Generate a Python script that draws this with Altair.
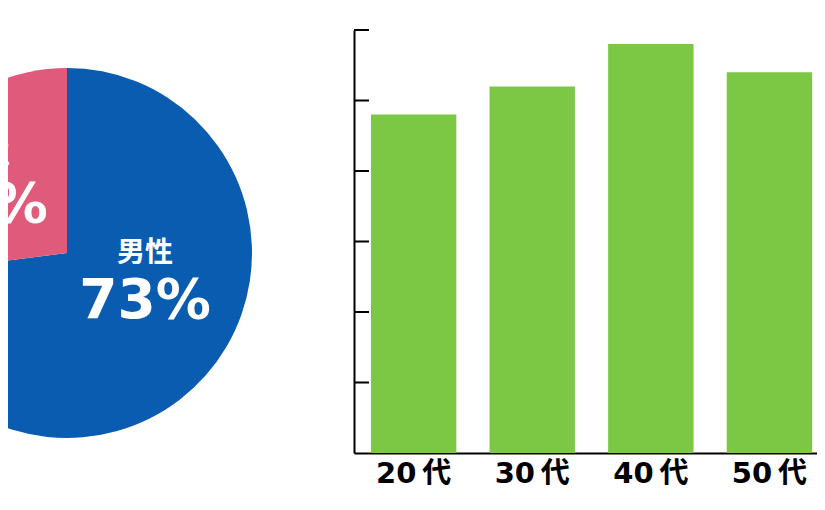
import altair as alt
import pandas as pd

# ---- data ----
genders = ["男性", "女性"]
shares = [73, 27]

ages = ["20代", "30代", "40代", "50代"]
age_values = [48, 52, 58, 54]
tick_values = [10, 20, 30, 40, 50, 60]

BLUE = "#0a5cb0"
PINK = "#e05a7b"
GREEN = "#7cc744"
FONT = "'DejaVu Sans', 'Noto Sans CJK JP', sans-serif"

pie_df = pd.DataFrame({"gender": genders, "share": shares})
bar_df = pd.DataFrame({"age": ages, "value": age_values})
tick_df = pd.DataFrame({"tick": tick_values})

CX, CY, R = 59, 223, 185

arc = alt.Chart(pie_df).mark_arc(radius=R, clip=True).encode(
    theta=alt.Theta("share:Q", stack=True),
    color=alt.Color("gender:N", scale=alt.Scale(domain=genders, range=[BLUE, PINK]), legend=None),
    order=alt.Order("share:Q", sort="descending"),
    x=alt.value(CX),
    y=alt.value(CY),
)

def label_layers(gender, nx, ny, py):
    base = alt.Chart(pie_df).transform_filter(
        alt.FieldEqualPredicate(field="gender", equal=gender)
    ).transform_calculate(pct="datum.share + '%'")
    name = base.mark_text(
        clip=True, font=FONT, fontSize=28, fontWeight="bold", color="white",
        align="center", baseline="middle"
    ).encode(text="gender:N", x=alt.value(nx), y=alt.value(ny))
    pct = base.mark_text(
        clip=True, font=FONT, fontSize=55, fontWeight="bold", color="white",
        align="center", baseline="middle"
    ).encode(text="pct:N", x=alt.value(nx), y=alt.value(py))
    return [name, pct]

pie = alt.layer(
    arc,
    *label_layers("男性", 137, 224, 271),
    *label_layers("女性", -26, 125, 175),
).properties(width=300, height=423)

y_axis = alt.Axis(title=None, labels=False, ticks=False, grid=False,
                  domainColor="black", domainWidth=2)

bars = alt.Chart(bar_df).mark_bar(color=GREEN).encode(
    x=alt.X(
        "age:N", sort=ages,
        scale=alt.Scale(paddingInner=0.28, paddingOuter=0.092, align=0.776),
        axis=alt.Axis(
            title=None, labelAngle=0, ticks=False, grid=False,
            domainColor="black", domainWidth=2,
            labelFont=FONT, labelFontSize=29, labelFontWeight="bold",
            labelColor="black", labelPadding=6,
            labelExpr="replace(datum.label, '代', '\u2009代')",
        ),
    ),
    y=alt.Y("value:Q", scale=alt.Scale(domain=[0, 60], nice=False), axis=y_axis),
)

ticks = alt.Chart(tick_df).mark_rule(color="black", strokeWidth=2).encode(
    y=alt.Y("tick:Q", axis=y_axis),
    x=alt.value(0),
    x2=alt.value(15),
)

bar_chart = alt.layer(bars, ticks).properties(width=463, height=423)

chart = alt.hconcat(pie, bar_chart, spacing=46, bounds="flush").properties(
    padding={"left": 0, "top": 21, "right": 0, "bottom": 0},
    background="white",
).configure_view(stroke=None)

chart.save("out.html", embed_options={"renderer": "svg", "actions": False})
